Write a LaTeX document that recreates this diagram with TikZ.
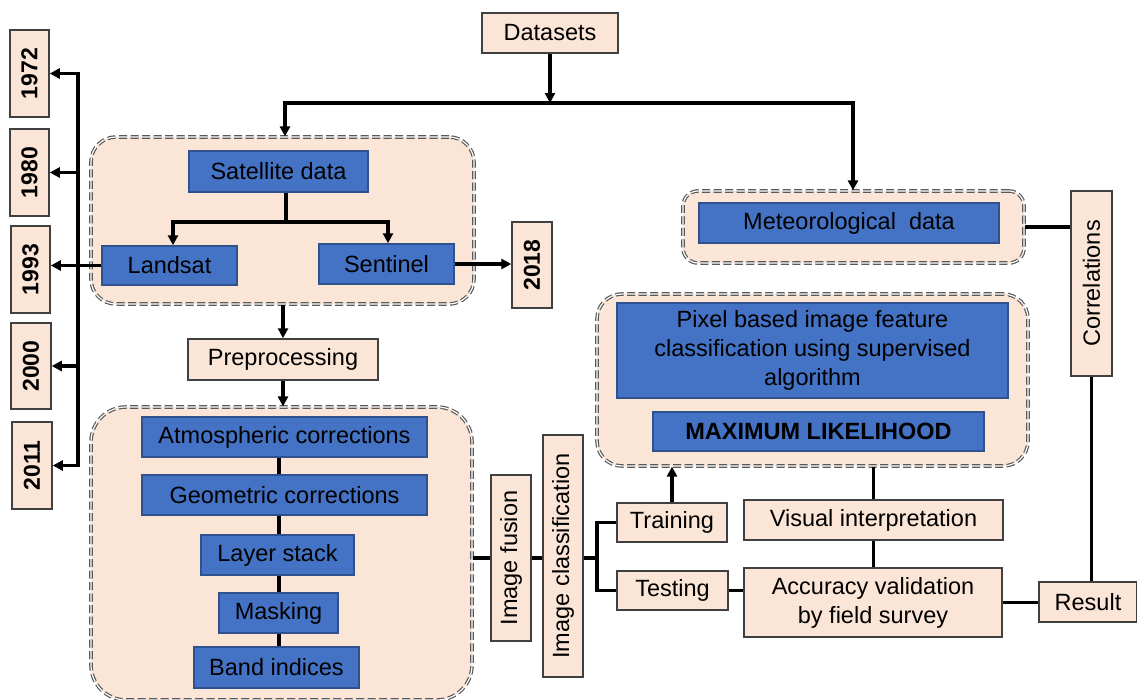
\documentclass[tikz,border=0pt]{standalone}
\usepackage{fontspec}
\setmainfont{Liberation Sans}
\usetikzlibrary{arrows.meta}
\definecolor{peach}{HTML}{FBE5D6}
\definecolor{bblue}{HTML}{4472C4}
\definecolor{bbord}{HTML}{2F528F}
\definecolor{pbord}{HTML}{404040}
\begin{document}
\begin{tikzpicture}[x=1pt,y=-1pt,
  every node/.style={font=\fontsize{23.5}{29}\selectfont, inner sep=0pt, align=center},
  pbox/.style={draw=pbord, line width=1.5pt, fill=peach},
  bbox/.style={draw=bbord, line width=1.5pt, fill=bblue},
  ybox/.style={pbox, rotate=90, font=\fontsize{23}{28}\selectfont\bfseries},
  vbox/.style={pbox, rotate=90},
  grp/.style={draw=black!65, double=white, double distance=1.2pt, line width=1.2pt, dash pattern=on 8pt off 3.5pt, fill=peach},
  sz/.style 2 args={minimum width=#1pt, minimum height=#2pt},
  conn/.style={line width=3.2pt, black},
  arr/.style={conn, -{Triangle[length=10pt,width=10pt]}},
  biarr/.style={conn, {Triangle[length=10pt,width=10pt]}-{Triangle[length=10pt,width=10pt]}},
]
\useasboundingbox (0,0) rectangle (1137,699);

% groups
\node[grp, rounded corners=25pt, sz={383}{167}] (sg) at (282.5,220.5) {};
\node[grp, rounded corners=35pt, sz={381}{293}] (lg) at (281.5,553.5) {};
\node[grp, rounded corners=15pt, sz={341}{72}] (mg) at (853.5,227) {};
\node[grp, rounded corners=25pt, sz={431}{172}] (pg) at (812.5,380) {};

% top
\node[pbox, sz={136}{40}] (ds) at (550,33) {Datasets};

% years
\node[ybox, sz={87}{39}] (y1972) at (29.5,73.5) {1972};
\node[ybox, sz={87}{39}] (y1980) at (29.5,172.5) {1980};
\node[ybox, sz={87}{39}] (y1993) at (30.5,269.5) {1993};
\node[ybox, sz={86}{40}] (y2000) at (31,366) {2000};
\node[ybox, sz={87}{40}] (y2011) at (32,465.5) {2011};
\node[ybox, sz={86}{40}] (y2018) at (532,265) {2018};

% satellite group
\node[bbox, sz={179}{41}] (sd) at (278.5,171.5) {Satellite data};
\node[bbox, sz={135}{39}] (ls) at (169.5,265.5) {Landsat};
\node[bbox, sz={135}{40}] (sn) at (386.5,264) {Sentinel};

% preprocessing
\node[pbox, sz={190}{41}] (pp) at (283,359.5) {Preprocessing};
\node[bbox, sz={285}{40}] (at) at (284.5,437) {Atmospheric corrections};
\node[bbox, sz={285}{40}] (ge) at (284.5,495) {Geometric corrections};
\node[bbox, sz={153}{40}] (lst) at (277.5,555) {Layer stack};
\node[bbox, sz={119}{40}] (mk) at (278.5,613) {Masking};
\node[bbox, sz={165}{41}] (bi) at (276.5,667.5) {Band indices};

% fusion / classification
\node[vbox, sz={166}{40}] (imf) at (511,558) {Image fusion};
\node[vbox, sz={242}{40}] (ic) at (563,556) {Image classification};
\node[pbox, sz={110}{39}] (tr) at (672,522.5) {Training};
\node[pbox, sz={111}{39}] (ts) at (672.5,590.5) {Testing};

% right side
\node[bbox, sz={300}{40}] (md) at (849,223) {Meteorological~ data};
\node[vbox, sz={185}{41}] (cor) at (1091.5,283.5) {Correlations};
\node[bbox, sz={391}{95}] (px) at (812.5,350.5) {Pixel based image feature\\classification using supervised\\algorithm};
\node[bbox, sz={331}{39}, font=\fontsize{23.5}{29}\selectfont\bfseries] (ml) at (818.5,431.5) {MAXIMUM LIKELIHOOD};
\node[pbox, sz={259}{40}] (vi) at (873.5,520) {Visual interpretation};
\node[pbox, sz={258}{69}] (ac) at (873,602.5) {Accuracy validation\\by field survey};
\node[pbox, sz={98}{40}] (res) at (1088,602) {Result};

% coordinates
\coordinate (j1) at (285,103);
\coordinate (j2) at (853,103);
\coordinate (b0) at (286,222);
\coordinate (b1) at (173,222);
\coordinate (b2) at (388,222);
\coordinate (spx) at (78,0);
\coordinate (cx) at (279,0);
\coordinate (jy) at (0,558);
\coordinate (br) at (597,558);

% connectors top
\draw[arr] (ds.south) -- (ds.south |- j1);
\draw[biarr] (j1 |- sg.north) -- (j1) -- (j2) -- (j2 |- mg.north);
\draw[conn] (sd.south -| b0) -- (b0);
\draw[biarr] (b1 |- ls.north) -- (b1) -- (b2) -- (b2 |- sn.north);

% years spine
\draw[biarr] (y1972.south) -- (y1972.south -| spx) -- (y2011.south -| spx) -- (y2011.south);
\draw[arr] (y1980.south -| spx) -- (y1980.south);
\draw[arr] (y2000.south -| spx) -- (y2000.south);
\draw[arr] (ls.west) -- (ls.west -| y1993.south);
\draw[arr] (sn.east) -- (sn.east -| y2018.north);

% preprocessing chain
\draw[arr] (pp.north |- sg.south) -- (pp.north);
\draw[arr] (pp.south) -- (pp.south |- lg.north);
\draw[conn] (at.south -| cx) -- (ge.north -| cx);
\draw[conn] (ge.south -| cx) -- (lst.north -| cx);
\draw[conn] (lst.south -| cx) -- (mk.north -| cx);
\draw[conn] (mk.south -| cx) -- (bi.north -| cx);

% fusion chain
\draw[conn] (lg.east |- jy) -- (imf.north |- jy);
\draw[conn] (imf.south |- jy) -- (ic.north |- jy);
\draw[conn] (ic.south |- jy) -- (br);
\draw[conn] (tr.west) -- (tr.west -| br) -- (ts.west -| br) -- (ts.west);
\draw[arr] (tr.north) -- (tr.north |- pg.south);

% right chain
\draw[conn] (vi.north |- pg.south) -- (vi.north);
\draw[conn] (vi.south) -- (vi.south |- ac.north);
\draw[conn] (ts.east) -- (ts.east -| ac.west);
\draw[conn] (ac.east) -- (ac.east -| res.west);
\draw[conn] (mg.east) -- (mg.east -| cor.north);
\draw[conn] (cor.west) -- (cor.west |- res.north);
\end{tikzpicture}
\end{document}
